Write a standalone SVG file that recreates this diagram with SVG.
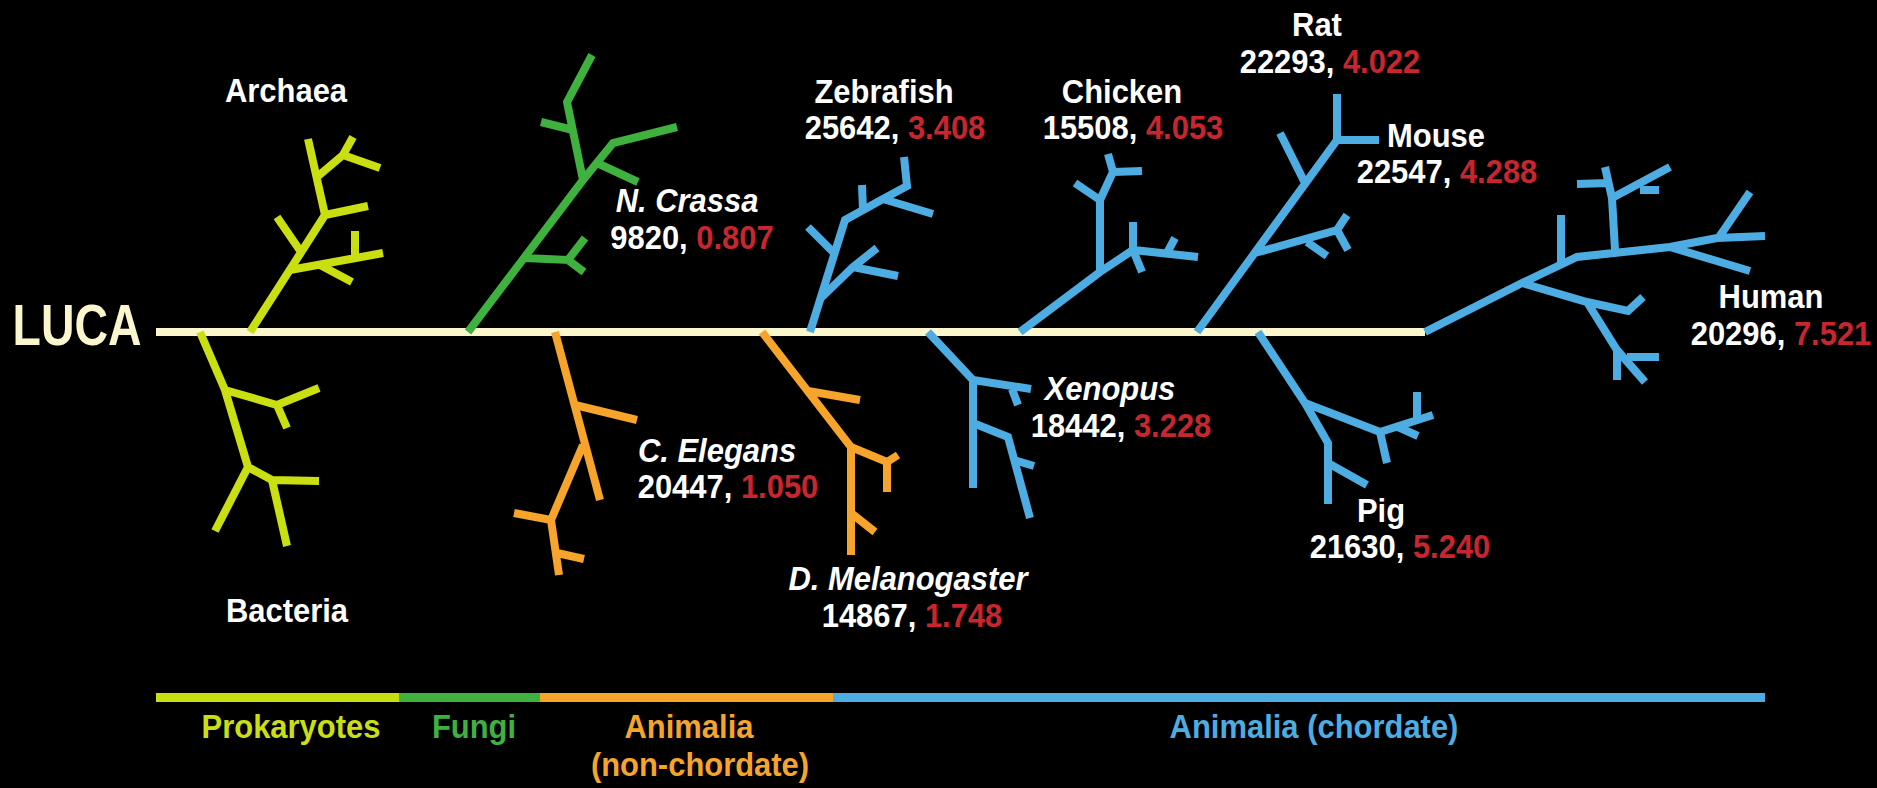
<svg xmlns="http://www.w3.org/2000/svg" width="1877" height="788" viewBox="0 0 1877 788">
<style>
.t{fill:none;stroke-width:8;stroke-linecap:butt;stroke-linejoin:miter}
.pk{stroke:#CADF12}.fg{stroke:#3FB13F}.or{stroke:#F6A42C}.bl{stroke:#4DADE2}
.lb{font-family:"Liberation Sans",Arial,sans-serif;font-weight:bold;font-size:34px;fill:#FFFFFF;text-anchor:middle}
.it{font-style:italic}
.rd{fill:#C8262E}
.lg{font-family:"Liberation Sans",Arial,sans-serif;font-weight:bold;font-size:34px;text-anchor:middle}
</style>
<rect width="1877" height="788" fill="#000000"/>

<g id="connectors">
<rect x="156" y="328" width="1269" height="8" fill="#FBF6CC"/>
</g>

<g id="luca">
<text transform="translate(77,345) scale(0.8,1)" font-family="Liberation Sans, Arial, sans-serif" font-weight="bold" font-size="58" fill="#FBF6CC" text-anchor="middle">LUCA</text>
</g>

<g id="archaea">
<path class="t pk" d="M250,332 L325,215 L308,139 M317,177 L343,155 L353,137 M343,155 L380,168 M325,215 L368,206 M301,252 L277,217 M290,270 L383,253 M320,265 L352,282 M355,256 L355,231"/>
<text class="lb" transform="translate(286,102) scale(0.91,1)">Archaea</text>
</g>

<g id="bacteria">
<path class="t pk" d="M200,332 L225,390 L248,467 M225,390 L277,405 L319,388 M277,405 L287,428 M248,467 L215,531 M248,467 L272,480 L319,481 M272,480 L287,546"/>
<text class="lb" transform="translate(287,622) scale(0.91,1)">Bacteria</text>
</g>

<g id="n-crassa">
<path class="t fg" d="M468,332 L583,180 L613,143 L677,127 M583,180 L567,102 L592,55 M573,130 L541,122 M597,163 L638,182 M524,258 L568,260 L585,238 M568,260 L584,272"/>
<text class="lb it" transform="translate(687,212) scale(0.91,1)">N. Crassa</text>
<text class="lb" transform="translate(692,249) scale(0.91,1)">9820, <tspan class="rd">0.807</tspan></text>
</g>

<g id="c-elegans">
<path class="t or" d="M555,332 L600,500 M575,405 L637,420 M583,445 L551,520 L514,513 M551,520 L559,575 M557,553 L584,559"/>
<text class="lb it" transform="translate(717,462) scale(0.91,1)">C. Elegans</text>
<text class="lb" transform="translate(728,498) scale(0.91,1)">20447, <tspan class="rd">1.050</tspan></text>
</g>

<g id="d-melanogaster">
<path class="t or" d="M762,332 L851,447 L851,555 M808,391 L860,400 M851,447 L887,462 L898,455 M887,462 L887,492 M851,513 L875,532"/>
<text class="lb it" transform="translate(908,590) scale(0.91,1)">D. Melanogaster</text>
<text class="lb" transform="translate(912,627) scale(0.91,1)">14867, <tspan class="rd">1.748</tspan></text>
</g>

<g id="zebrafish">
<path class="t bl" d="M810,332 L845,220 L883,199 L907,186 L904,157 M883,199 L933,214 M863,210 L862,185 M821,298 L853,267 L877,248 M853,267 L898,276 M834,253 L808,227"/>
<text class="lb" transform="translate(884,103) scale(0.91,1)">Zebrafish</text>
<text class="lb" transform="translate(895,139) scale(0.91,1)">25642, <tspan class="rd">3.408</tspan></text>
</g>

<g id="chicken">
<path class="t bl" d="M1020,332 L1100,272 L1133,250 L1198,257 M1100,272 L1100,200 L1075,183 M1100,200 L1113,172 L1108,154 M1113,172 L1142,171 M1133,250 L1133,222 M1133,250 L1142,272 M1167,253 L1175,238"/>
<text class="lb" transform="translate(1122,103) scale(0.91,1)">Chicken</text>
<text class="lb" transform="translate(1133,139) scale(0.91,1)">15508, <tspan class="rd">4.053</tspan></text>
</g>

<g id="xenopus">
<path class="t bl" d="M928,332 L973,380 L973,488 M973,380 L1031,389 M1012,389 L1018,405 M973,423 L1008,437 L1030,518 M1014,460 L1034,466"/>
<text class="lb it" transform="translate(1110,400) scale(0.91,1)">Xenopus</text>
<text class="lb" transform="translate(1121,437) scale(0.91,1)">18442, <tspan class="rd">3.228</tspan></text>
</g>

<g id="rat-mouse">
<path class="t bl" d="M1197,332 L1337,140 L1337,94 M1337,140 L1379,140 M1305,183 L1280,133 M1255,253 L1337,230 L1347,215 M1337,230 L1348,250 M1307,242 L1327,256"/>
<text class="lb" transform="translate(1317,36) scale(0.91,1)">Rat</text>
<text class="lb" transform="translate(1330,73) scale(0.91,1)">22293, <tspan class="rd">4.022</tspan></text>
<text class="lb" transform="translate(1436,147) scale(0.91,1)">Mouse</text>
<text class="lb" transform="translate(1447,183) scale(0.91,1)">22547, <tspan class="rd">4.288</tspan></text>
</g>

<g id="pig">
<path class="t bl" d="M1258,332 L1305,403 L1328,443 L1328,504 M1305,403 L1380,432 L1433,415 M1380,432 L1387,463 M1417,392 L1417,421 M1398,427 L1418,436 M1328,463 L1367,485"/>
<text class="lb" transform="translate(1381,522) scale(0.91,1)">Pig</text>
<text class="lb" transform="translate(1400,558) scale(0.91,1)">21630, <tspan class="rd">5.240</tspan></text>
</g>

<g id="human">
<path class="t bl" d="M1425,332 L1522,283 L1577,257 L1670,247 L1717,238 L1765,236 M1561,262 L1561,215 M1615,250 L1612,198 L1605,167 M1608,183 L1577,184 M1612,198 L1670,167 M1640,190 L1659,190 M1670,247 L1750,271 M1717,240 L1750,192 M1522,283 L1587,302 L1628,311 L1643,297 M1587,302 L1617,350 L1645,382 M1617,350 L1617,380 M1627,357 L1659,357"/>
<text class="lb" transform="translate(1771,308) scale(0.91,1)">Human</text>
<text class="lb" transform="translate(1781,345) scale(0.91,1)">20296, <tspan class="rd">7.521</tspan></text>
</g>

<g id="legend">
<rect x="156" y="693" width="243" height="9" fill="#CADF12"/>
<rect x="399" y="693" width="141" height="9" fill="#3FB13F"/>
<rect x="540" y="693" width="293" height="9" fill="#F6A42C"/>
<rect x="833" y="693" width="932" height="9" fill="#4DADE2"/>
<text class="lg" fill="#CADF12" transform="translate(291,738) scale(0.91,1)">Prokaryotes</text>
<text class="lg" fill="#3FB13F" transform="translate(474,738) scale(0.91,1)">Fungi</text>
<text class="lg" fill="#F6A42C" transform="translate(689,738) scale(0.91,1)">Animalia</text>
<text class="lg" fill="#F6A42C" transform="translate(700,776) scale(0.91,1)">(non-chordate)</text>
<text class="lg" fill="#4DADE2" transform="translate(1314,738) scale(0.91,1)">Animalia (chordate)</text>
</g>
</svg>
